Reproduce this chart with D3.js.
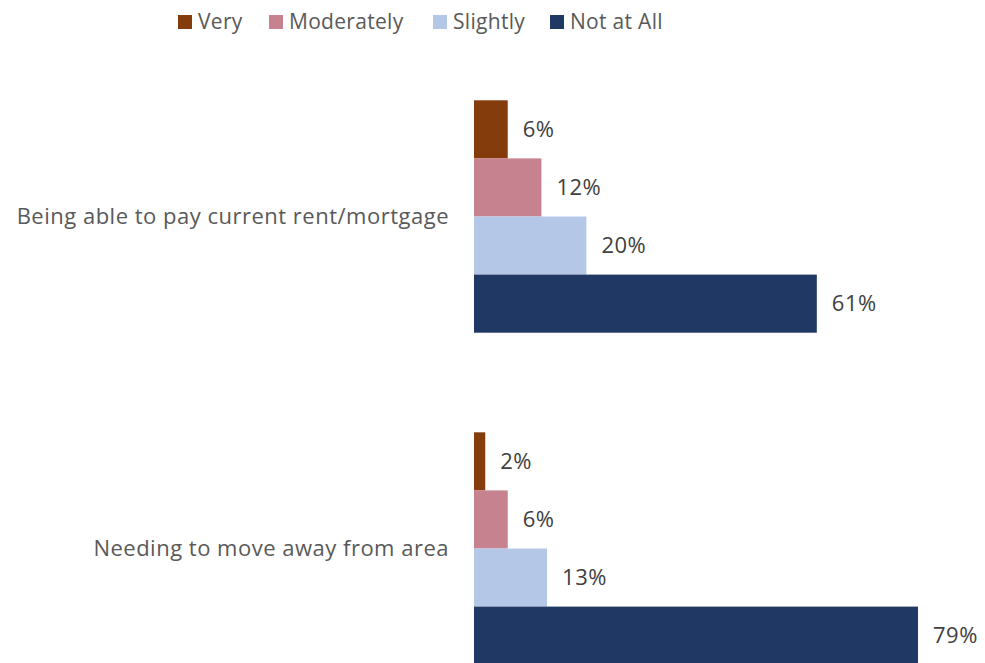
<!DOCTYPE html>
<html lang="en">
<head>
<meta charset="utf-8">
<title>Housing worries</title>
<script src="https://d3js.org/d3.v7.min.js"></script>
<style>
  body { margin: 0; background: #fff; }
  svg { display: block; font-family: "Open Sans", sans-serif; }
</style>
</head>
<body>
<script>
// data
var categories = ["Being able to pay current rent/mortgage", "Needing to move away from area"];
var series = ["Very", "Moderately", "Slightly", "Not at All"];
var colors = ["#843c0c", "#c7828f", "#b4c7e7", "#203864"];
var veryVals = [6, 2];
var moderatelyVals = [12, 6];
var slightlyVals = [20, 13];
var notAtAllVals = [61, 79];

var w = 985, h = 663;

var rows = [];
categories.forEach(function(c, i) {
  [veryVals, moderatelyVals, slightlyVals, notAtAllVals].forEach(function(arr, j) {
    rows.push({cat: c, s: series[j], v: arr[i], color: colors[j]});
  });
});

var svg = d3.select("body").append("svg")
  .attr("width", w)
  .attr("height", h);

// scales
var x = d3.scaleLinear().domain([0, 100]).range([474, 1036]);
var y0 = d3.scaleBand().domain(categories).range([50.5, 714.5])
  .paddingInner(0.3).paddingOuter(0.15);
var y1 = d3.scaleBand().domain(series).range([0, y0.bandwidth()]);

// bars
svg.selectAll("rect.bar")
  .data(rows)
  .enter()
  .append("rect")
  .attr("class", "bar")
  .attr("x", x(0))
  .attr("y", function(d) { return y0(d.cat) + y1(d.s); })
  .attr("width", function(d) { return x(d.v) - x(0); })
  .attr("height", y1.bandwidth())
  .attr("fill", function(d) { return d.color; });

// value labels
svg.selectAll("text.val")
  .data(rows)
  .enter()
  .append("text")
  .attr("class", "val")
  .attr("x", function(d) { return x(d.v) + 15; })
  .attr("y", function(d) { return y0(d.cat) + y1(d.s) + y1.bandwidth() / 2; })
  .attr("dy", "0.35em")
  .attr("font-size", 22)
  .attr("letter-spacing", 0.5)
  .attr("fill", "#404040")
  .text(function(d) { return d.v + "%"; });

// category axis (no line)
var yAxis = svg.append("g")
  .attr("transform", "translate(" + x(0) + ",0)")
  .call(d3.axisLeft(y0).tickSize(0).tickPadding(25));
yAxis.select(".domain").remove();
yAxis.selectAll("text")
  .attr("font-family", "'Open Sans', sans-serif")
  .attr("font-size", 22)
  .attr("letter-spacing", 0.5)
  .attr("fill", "#595959");

// legend
var legendX = [178, 269, 433, 550];
var legend = svg.selectAll("g.legend")
  .data(series)
  .enter()
  .append("g")
  .attr("class", "legend")
  .attr("transform", function(d, i) { return "translate(" + legendX[i] + ",15)"; });

legend.append("rect")
  .attr("width", 14)
  .attr("height", 14)
  .attr("fill", function(d, i) { return colors[i]; });

legend.append("text")
  .attr("x", 20)
  .attr("y", 7)
  .attr("dy", "0.35em")
  .attr("font-size", 21)
  .attr("letter-spacing", 0.3)
  .attr("fill", "#595959")
  .text(function(d) { return d; });
</script>
</body>
</html>
